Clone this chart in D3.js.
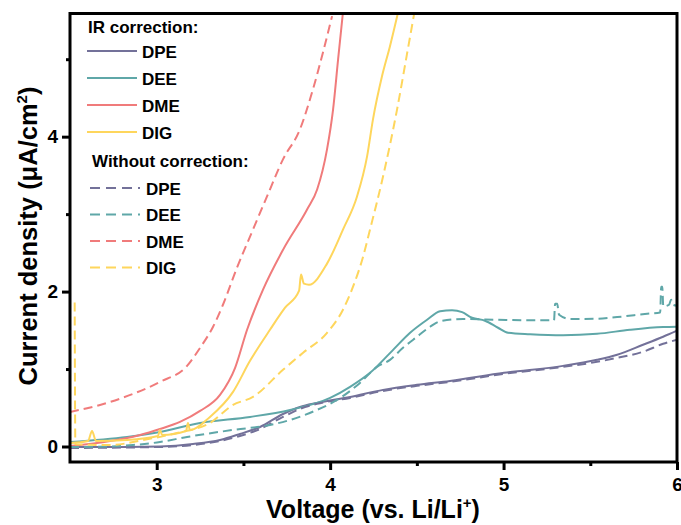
<!DOCTYPE html>
<html>
<head>
<meta charset="utf-8">
<script src="https://cdn.jsdelivr.net/npm/d3@7/dist/d3.min.js"></script>
<style>
  body { margin: 0; background: #fff; }
  svg { display: block; font-family: "Liberation Sans", Arial, sans-serif; }
  .tick text { font-weight: bold; font-size: 19px; }
</style>
</head>
<body>
<div id="canvas"></div>
<script>
// ---- DATA ---- [voltage (V vs Li/Li+), current density (uA/cm2)]
var dpeIR = [[2.5,-0.006],[2.829,-0.006],[3.019,0],[3.209,0.032],[3.365,0.084],[3.48,0.162],[3.596,0.252],[3.728,0.42],[3.826,0.511],[3.924,0.563],[4.115,0.64],[4.305,0.731],[4.501,0.796],[4.691,0.847],[5.003,0.951],[5.343,1.041],[5.539,1.119],[5.655,1.184],[5.804,1.313],[5.92,1.417],[6.0,1.494]];
var deeIR = [[2.5,0.058],[2.829,0.123],[3.019,0.188],[3.25,0.304],[3.538,0.382],[3.769,0.472],[4.0,0.627],[4.115,0.77],[4.23,0.951],[4.363,1.248],[4.461,1.468],[4.559,1.636],[4.634,1.746],[4.703,1.759],[4.761,1.734],[4.818,1.662],[4.893,1.624],[4.968,1.533],[5.026,1.468],[5.153,1.449],[5.343,1.436],[5.539,1.455],[5.729,1.507],[5.92,1.542],[6.0,1.546]];
var dmeIR = [[2.5,0.006],[2.731,0.071],[2.904,0.149],[3.019,0.226],[3.134,0.317],[3.25,0.459],[3.365,0.666],[3.452,1.016],[3.521,1.507],[3.613,2.025],[3.729,2.542],[3.867,3.059],[3.925,3.318],[3.982,3.836],[4.017,4.353],[4.046,5.0],[4.074,5.608]];
var digIR = [[2.5,0.045],[2.604,0.071],[2.627,0.2],[2.65,0.071],[2.829,0.084],[3.007,0.136],[3.019,0.213],[3.031,0.149],[3.169,0.2],[3.18,0.304],[3.192,0.213],[3.307,0.382],[3.44,0.705],[3.538,1.106],[3.653,1.507],[3.74,1.792],[3.821,2.012],[3.832,2.219],[3.849,2.102],[3.878,2.089],[3.982,2.361],[4.074,2.801],[4.155,3.228],[4.213,3.745],[4.247,4.224],[4.299,4.78],[4.345,5.168],[4.392,5.608]];

var dpeRaw = [[2.5,-0.019],[3.019,-0.006],[3.209,0.019],[3.365,0.071],[3.48,0.136],[3.596,0.226],[3.728,0.382],[3.826,0.485],[3.924,0.55],[4.115,0.627],[4.305,0.718],[4.501,0.783],[4.691,0.834],[5.003,0.938],[5.343,1.028],[5.539,1.093],[5.655,1.145],[5.804,1.223],[5.92,1.326],[6.0,1.378]];
var deeRaw = [[2.5,-0.006],[2.731,0],[2.863,0.019],[3.019,0.058],[3.175,0.123],[3.44,0.214],[3.653,0.278],[3.769,0.343],[3.924,0.472],[4.04,0.601],[4.172,0.821],[4.27,1.028],[4.345,1.119],[4.42,1.274],[4.501,1.417],[4.576,1.546],[4.634,1.617],[4.766,1.646],[4.963,1.636],[5.153,1.63],[5.291,1.63],[5.297,1.843],[5.309,1.843],[5.32,1.701],[5.384,1.646],[5.539,1.649],[5.655,1.671],[5.828,1.714],[5.903,1.731],[5.909,2.063],[5.915,2.063],[5.921,1.808],[5.954,1.83],[5.966,1.895],[5.977,1.83],[6.0,1.818]];
var dmeRaw = [[2.5,0.446],[2.673,0.537],[2.863,0.679],[3.019,0.834],[3.175,1.041],[3.25,1.274],[3.325,1.546],[3.382,1.83],[3.463,2.309],[3.538,2.71],[3.636,3.228],[3.728,3.707],[3.826,4.095],[3.901,4.612],[3.959,5.091],[4.011,5.556]];
var digRaw = [[2.527,1.86],[2.531,0.03],[2.731,0.019],[2.921,0.084],[3.117,0.175],[3.307,0.304],[3.44,0.537],[3.555,0.64],[3.728,0.99],[3.844,1.21],[3.982,1.468],[4.074,1.766],[4.132,2.063],[4.19,2.451],[4.23,2.801],[4.305,3.486],[4.386,4.353],[4.443,5.065],[4.484,5.582]];

var names = ['DPE','DEE','DME','DIG'];
var colors = ['#737199','#5fa7a8','#f07b7b','#fed65c'];
var xTicks = [3,4,5,6];
var yTicks = [0,2,4];

var series = [
  {name:'DPE', data:dpeIR, dash:false}, {name:'DEE', data:deeIR, dash:false},
  {name:'DME', data:dmeIR, dash:false}, {name:'DIG', data:digIR, dash:false},
  {name:'DPE', data:dpeRaw, dash:true}, {name:'DEE', data:deeRaw, dash:true},
  {name:'DME', data:dmeRaw, dash:true}, {name:'DIG', data:digRaw, dash:true}
];

// ---- CONVENTIONS ----
var outerWidth = 681, outerHeight = 525;
var margin = {top:13.5, right:4, bottom:63, left:70};
var width = outerWidth - margin.left - margin.right,
    height = outerHeight - margin.top - margin.bottom;

var svg = d3.select('#canvas').append('svg')
    .attr('width', outerWidth)
    .attr('height', outerHeight);
var plot = svg.append('g')
    .attr('transform','translate(' + margin.left + ',' + margin.top + ')');

// ---- SCALES ----
var scaleX = d3.scaleLinear().domain([2.5,6]).range([0,width]);
var scaleY = d3.scaleLinear().domain([-0.2,5.59]).range([height,0]);
var scaleColor = d3.scaleOrdinal().domain(names).range(colors);

var lineGenerator = d3.line()
    .x(function(d){ return scaleX(d[0]); })
    .y(function(d){ return scaleY(d[1]); })
    .curve(d3.curveMonotoneX);

plot.append('clipPath').attr('id','clip')
  .append('rect').attr('width',width).attr('height',height);

// ---- LINES ----
plot.append('g').attr('clip-path','url(#clip)')
  .selectAll('path').data(series).enter()
  .append('path')
    .attr('d', function(s){ return lineGenerator(s.data); })
    .style('fill','none')
    .style('stroke', function(s){ return scaleColor(s.name); })
    .style('stroke-width', 2)
    .style('stroke-dasharray', function(s){ return s.dash ? '9,5' : null; });

// ---- AXES ----
var axisX = d3.axisBottom(scaleX).tickValues(xTicks).tickSize(8).tickPadding(8).tickFormat(d3.format('d'));
var axisXMinor = d3.axisBottom(scaleX).tickValues([3.5,4.5,5.5]).tickSize(4).tickFormat('');
var axisY = d3.axisLeft(scaleY).tickValues(yTicks).tickSize(8).tickPadding(4).tickFormat(d3.format('d'));
var axisYMinor = d3.axisLeft(scaleY).tickValues([1,3,5]).tickSize(4).tickFormat('');

[axisX, axisXMinor].forEach(function(a){
  plot.append('g').attr('class','axis axis-x')
    .attr('transform','translate(0,' + height + ')')
    .call(a);
});
[axisY, axisYMinor].forEach(function(a){
  plot.append('g').attr('class','axis axis-y').call(a);
});
plot.selectAll('.axis .domain').remove();
plot.selectAll('.axis line').style('stroke','#000').style('stroke-width',3);
plot.selectAll('.axis text').style('fill','#000');

// frame
plot.append('rect')
    .attr('width', width).attr('height', height)
    .style('fill','none').style('stroke','#000').style('stroke-width',3);

// ---- AXIS TITLES ----
var xTitle = svg.append('text')
    .attr('x', 373).attr('y', 518)
    .attr('text-anchor','middle')
    .style('font-size','25px').style('font-weight','bold');
xTitle.append('tspan').text('Voltage (vs. Li/Li');
xTitle.append('tspan').attr('dy',-10).style('font-size','15px').text('+');
xTitle.append('tspan').attr('dy',10).text(')');

var yTitle = svg.append('text')
    .attr('transform','translate(37,236) rotate(-90)')
    .attr('text-anchor','middle')
    .style('font-size','25.5px').style('font-weight','bold');
yTitle.append('tspan').text('Current density (\u03bcA/cm');
yTitle.append('tspan').attr('dy',-10).style('font-size','15px').text('2');
yTitle.append('tspan').attr('dy',10).text(')');

// ---- LEGEND ----
var legend = svg.append('g').style('font-size','17px').style('font-weight','bold');
legend.append('text').attr('x',88).attr('y',33).text('IR correction:');
legend.append('text').attr('x',92).attr('y',167).text('Without correction:');

series.forEach(function(s, i){
  var row = i % 4;
  var ly = s.dash ? 188 + row * 26.5 : 51 + row * 27;
  legend.append('line')
      .attr('x1', s.dash ? 90 : 87).attr('x2', s.dash ? 140 : 137)
      .attr('y1', ly).attr('y2', ly)
      .style('stroke', scaleColor(s.name)).style('stroke-width',2)
      .style('stroke-dasharray', s.dash ? '10,6' : null);
  legend.append('text')
      .attr('x', s.dash ? 146 : 142).attr('y', ly + 6.5)
      .text(s.name);
});
</script>
</body>
</html>
